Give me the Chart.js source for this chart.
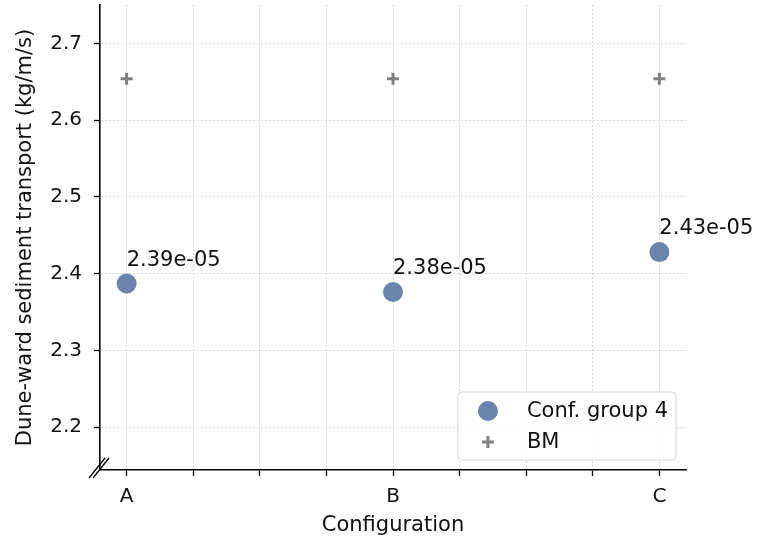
<!DOCTYPE html>
<html>
<head>
<meta charset="utf-8">
<script src="https://cdn.jsdelivr.net/npm/chart.js@4/dist/chart.umd.min.js"></script>
<style>
  html, body { margin: 0; padding: 0; background: #fff; }
  #wrap { width: 759px; height: 536px; }
</style>
</head>
<body>
<div id="wrap"><canvas id="chart" width="759" height="536"></canvas></div>
<script>
// Configurations on the x axis (placed at 0, 1, 2)
const categories = ['A', 'B', 'C'];
// Dune-ward sediment transport, shown in units of 1e-5 kg/m/s
const confGroup4 = [2.387, 2.376, 2.428];
const benchmark = [2.654, 2.654, 2.654];
const pointLabels = ['2.39e-05', '2.38e-05', '2.43e-05'];

// Ticks
const xTickValues = [0, 0.25, 0.5, 0.75, 1, 1.25, 1.5, 1.75, 2];
const xTickLabels = ['A', '', '', '', 'B', '', '', '', 'C'];
const yTickValues = [2.2, 2.3, 2.4, 2.5, 2.6, 2.7];

const FONT = 'DejaVu Sans';
const TEXT_COLOR = '#111';
const POINT_COLOR = '#6a84ad';
const BM_COLOR = '#808080';

// value labels above the blue points + axis break marks + legend
const overlayPlugin = {
  id: 'overlay',
  afterDatasetsDraw(chart) {
    const ctx = chart.ctx;
    const meta = chart.getDatasetMeta(0);
    ctx.save();
    ctx.font = '21px "' + FONT + '"';
    ctx.fillStyle = TEXT_COLOR;
    ctx.textAlign = 'left';
    ctx.textBaseline = 'alphabetic';
    meta.data.forEach((pt, i) => {
      ctx.fillText(pointLabels[i], pt.x, pt.y - 18);
    });
    ctx.restore();
  },
  afterDraw(chart) {
    const ctx = chart.ctx;
    const area = chart.chartArea;

    // axis break "//" at the lower left corner
    ctx.save();
    ctx.strokeStyle = '#000';
    ctx.lineWidth = 1.3;
    [-2, 2].forEach(dx => {
      ctx.beginPath();
      ctx.moveTo(area.left - 9 + dx, area.bottom + 8);
      ctx.lineTo(area.left + 7 + dx, area.bottom - 12);
      ctx.stroke();
    });
    ctx.restore();

    // legend in the lower right corner of the axes
    ctx.save();
    ctx.font = '21px "' + FONT + '"';
    const labels = chart.data.datasets.map(d => d.label);
    const textW = Math.max(...labels.map(l => ctx.measureText(l).width));
    const boxW = textW + 77;
    const boxH = 68;
    const bx = area.right - 10 - boxW;
    const by = area.bottom - 10 - boxH;
    ctx.beginPath();
    ctx.roundRect(bx, by, boxW, boxH, 4);
    ctx.fillStyle = 'rgba(255,255,255,0.85)';
    ctx.fill();
    ctx.strokeStyle = '#d6d6d6';
    ctx.lineWidth = 1;
    ctx.stroke();

    const mx = bx + 30;
    const rowY = [by + 19, by + 50];
    // circle marker
    ctx.beginPath();
    ctx.arc(mx, rowY[0], 10, 0, Math.PI * 2);
    ctx.fillStyle = POINT_COLOR;
    ctx.fill();
    // plus marker
    ctx.strokeStyle = BM_COLOR;
    ctx.lineWidth = 3;
    ctx.beginPath();
    ctx.moveTo(mx - 6, rowY[1]); ctx.lineTo(mx + 6, rowY[1]);
    ctx.moveTo(mx, rowY[1] - 6); ctx.lineTo(mx, rowY[1] + 6);
    ctx.stroke();

    ctx.fillStyle = TEXT_COLOR;
    ctx.textAlign = 'left';
    ctx.textBaseline = 'alphabetic';
    labels.forEach((l, i) => ctx.fillText(l, bx + 69, rowY[i] + 6));
    ctx.restore();
  }
};

const ctx = document.getElementById('chart').getContext('2d');
new Chart(ctx, {
  type: 'scatter',
  data: {
    datasets: [
      {
        label: 'Conf. group 4',
        data: confGroup4.map((v, i) => ({ x: i, y: v })),
        backgroundColor: POINT_COLOR,
        borderColor: POINT_COLOR,
        borderWidth: 0,
        pointRadius: 10,
        pointHoverRadius: 10
      },
      {
        label: 'BM',
        data: benchmark.map((v, i) => ({ x: i, y: v })),
        pointStyle: 'cross',
        borderColor: BM_COLOR,
        backgroundColor: BM_COLOR,
        borderWidth: 3,
        pointRadius: 6,
        pointHoverRadius: 6
      }
    ]
  },
  options: {
    responsive: false,
    devicePixelRatio: 1,
    animation: false,
    events: [],
    layout: { autoPadding: false, padding: { top: 5, right: 73, left: 0, bottom: 0 } },
    plugins: {
      legend: { display: false },
      tooltip: { enabled: false }
    },
    scales: {
      x: {
        type: 'linear',
        min: -0.1,
        max: 2.1,
        afterBuildTicks: scale => {
          scale.ticks = xTickValues.map(v => ({ value: v }));
        },
        afterFit: scale => {
          scale.height = 66;
          scale.paddingLeft = 0;
          scale.paddingRight = 0;
        },
        ticks: {
          autoSkip: false,
          maxRotation: 0,
          padding: 9,
          color: TEXT_COLOR,
          font: { family: FONT, size: 20 },
          callback: (value, index) => xTickLabels[index]
        },
        grid: {
          color: '#d8d8d8',
          lineWidth: 1,
          drawTicks: true,
          tickLength: 6,
          tickColor: '#000',
          tickWidth: 1.3,
          tickBorderDash: []
        },
        border: { display: true, color: '#000', width: 1.6, dash: [2, 2] },
        title: {
          display: true,
          text: 'Configuration',
          color: TEXT_COLOR,
          font: { family: FONT, size: 21 },
          padding: { top: 0, bottom: -2 }
        }
      },
      y: {
        min: 2.144,
        max: 2.75,
        afterBuildTicks: scale => {
          scale.ticks = yTickValues.map(v => ({ value: v }));
        },
        afterFit: scale => {
          scale.width = 100;
          scale.paddingTop = 0;
          scale.paddingBottom = 0;
        },
        ticks: {
          padding: 12,
          color: TEXT_COLOR,
          font: { family: FONT, size: 20 },
          callback: value => value.toFixed(1)
        },
        grid: {
          color: '#d8d8d8',
          lineWidth: 1,
          drawTicks: true,
          tickLength: 6,
          tickColor: '#000',
          tickWidth: 1.3,
          tickBorderDash: []
        },
        border: { display: true, color: '#000', width: 1.6, dash: [2, 2] },
        title: {
          display: true,
          text: 'Dune-ward sediment transport (kg/m/s)',
          color: TEXT_COLOR,
          font: { family: FONT, size: 21 },
          padding: { top: 13, bottom: 0 }
        }
      }
    }
  },
  plugins: [overlayPlugin]
});
</script>
</body>
</html>
